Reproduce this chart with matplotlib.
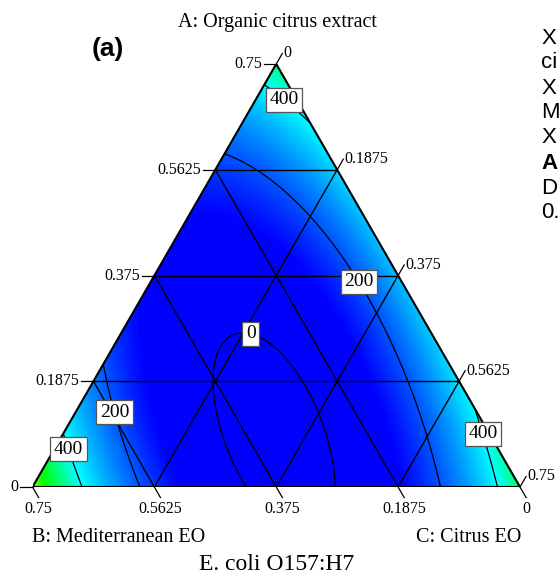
import numpy as np
import matplotlib
matplotlib.use('Agg')
import matplotlib.pyplot as plt
from matplotlib.colors import LinearSegmentedColormap
from matplotlib.patches import Polygon

# Scheffe cubic model in pseudo components (a, b, c), E. coli O157:H7 response
terms = ['a', 'b', 'c', 'ab', 'ac', 'bc', 'abc', 'ab(a-b)', 'ac(a-c)', 'bc(b-c)']
coefs = [479.27, 621.37, 496.85, -1846.54, -644.3, -2305.73, 56.91, -6.26, -45.73, 25.06]

total = 0.75  # A + B + C in the plotted simplex
tick_values = [0, 0.1875, 0.375, 0.5625, 0.75]
tick_labels = ['0', '0.1875', '0.375', '0.5625', '0.75']
levels = [0, 200, 400]
# where each contour label sits, as (A, C) in actual amounts
label_spots = [(0.695, 0.046), (0.367, 0.323), (0.293, 0.194),
               (0.133, 0.061), (0.069, 0.027), (0.096, 0.650)]
# legend column on the right, cut by the page edge
side_text = ['X', 'ci', 'X', 'M', 'X', 'A', 'D', '0.']

S = np.sqrt(3) / 2
SERIF = 'Liberation Serif'
SANS = 'Liberation Sans'


def basis(a, b, c):
    return np.array([a, b, c, a * b, a * c, b * c, a * b * c,
                     a * b * (a - b), a * c * (a - c), b * c * (b - c)])


def to_xy(a, c):
    # pseudo fractions -> triangle coordinates (B bottom-left, C bottom-right, A top)
    return c + a / 2.0, a * S


def px(x, y):
    return x / 560.0, 1 - y / 581.0


fig = plt.figure(figsize=(5.6, 5.81), dpi=100)
ax = fig.add_axes([32.5 / 560, 94 / 581, 487.5 / 560, 423 / 581])
ax.set_xlim(0, 1)
ax.set_ylim(0, S)
ax.axis('off')

gx, gy = np.meshgrid(np.linspace(0, 1, 500), np.linspace(0, S, 440))
ga = gy / S
gc = gx - ga / 2
gb = 1 - ga - gc
Z = np.tensordot(np.array(coefs), basis(ga, gb, gc), axes=1)

cmap = LinearSegmentedColormap.from_list('de', [
    (0, '#0000ff'), (0.375, '#00ffff'), (0.575, '#00ff00'),
    (0.75, '#ffff00'), (1, '#ff0000')])

tri = Polygon([(0, 0), (1, 0), (0.5, S)], closed=True, fc='none',
              ec='black', lw=1.5, zorder=5)
ax.add_patch(tri)
im = ax.imshow(Z, origin='lower', extent=(0, 1, 0, S), cmap=cmap,
               vmin=100, vmax=900, aspect='auto', interpolation='bilinear')
im.set_clip_path(tri)

# grid lines at the tick values
for v in tick_values[1:-1]:
    t = v / total
    for p, q in [((t, 0), (t, 1 - t)),          # A constant
                 ((0, t), (1 - t, t)),          # C constant
                 ((0, 1 - t), (1 - t, 0))]:     # B constant
        x0, y0 = to_xy(*p)
        x1, y1 = to_xy(*q)
        ax.plot([x0, x1], [y0, y1], color='black', lw=1.0, zorder=3)

cs = ax.contour(gx, gy, Z, levels=levels, colors='black', linewidths=0.9,
                zorder=4)
cs.set_clip_path(tri)

spots = [to_xy(A / total, C / total) for A, C in label_spots]
labels = ax.clabel(cs, levels, inline=False, fmt='%d', manual=spots,
                   fontsize=14)
for t in labels:
    t.set_rotation(0)
    t.set_family(SERIF)
    t.set_zorder(6)
    t.set_bbox(dict(facecolor='white', edgecolor='#555555', lw=0.9,
                    boxstyle='square,pad=0.18'))

# axis ticks on the three edges
L = 0.025
for v, lab in zip(tick_values, tick_labels):
    t = v / total
    # A on the left edge
    x, y = to_xy(t, 0)
    ax.plot([x, x - L], [y, y], color='black', lw=0.9, clip_on=False)
    ax.text(x - L - 0.004, y, lab, ha='right', va='center', fontsize=11.5,
            family=SERIF)
    # B on the bottom edge
    x, y = to_xy(0, 1 - t)
    ax.plot([x, x + L * 0.5], [y, y - L * S], color='black', lw=0.9,
            clip_on=False)
    ax.text(x + L * 0.5, y - L * S - 0.008, lab, ha='center', va='top',
            fontsize=11.5, family=SERIF)
    # C on the right edge
    x, y = to_xy(1 - t, t)
    ax.plot([x, x + L * 0.5], [y, y + L * S], color='black', lw=0.9,
            clip_on=False)
    ax.text(x + L * 0.5 + 0.003, y + L * S, lab, ha='left', va='center',
            fontsize=11.5, family=SERIF)

fig.text(*px(277, 23), 'A: Organic citrus extract', ha='center', va='center',
         fontsize=14.5, family=SERIF)
fig.text(*px(32, 537), 'B: Mediterranean EO', ha='left', va='center',
         fontsize=14.5, family=SERIF)
fig.text(*px(521, 537), 'C: Citrus EO', ha='right', va='center',
         fontsize=14.5, family=SERIF)
fig.text(*px(277, 565), 'E. coli O157:H7', ha='center', va='center',
         fontsize=17, family=SERIF)
fig.text(*px(108, 49), '(a)', ha='center', va='center', fontsize=19,
         family=SANS, weight='bold')

for i, s in enumerate(side_text):
    fig.text(*px(541, 38 + 25 * i), s, ha='left', va='center', fontsize=16,
             family=SANS, weight='bold' if s == 'A' else 'normal')

fig.savefig('out.png')
